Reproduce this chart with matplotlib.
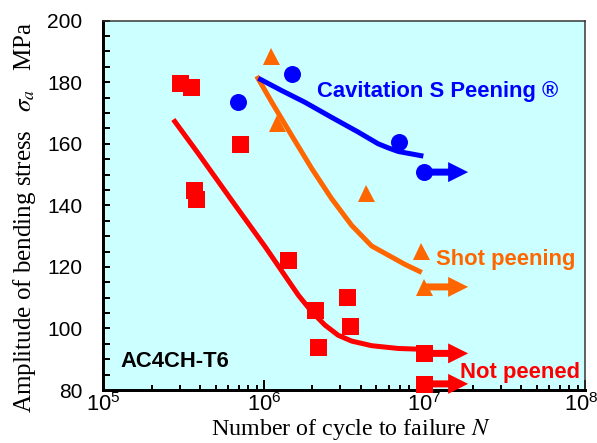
import numpy as np
import matplotlib
matplotlib.use('Agg')
import matplotlib.pyplot as plt
import matplotlib.transforms as mtransforms
from matplotlib.ticker import LogLocator, MultipleLocator, NullFormatter

# --- data (N in cycles, stress in MPa) ---
not_peened_N = [3.0e5, 3.5e5, 7.1e5, 3.65e5, 3.8e5, 1.42e6, 2.08e6, 3.3e6, 3.45e6, 2.18e6]
not_peened_S = [179.8, 178.4, 160.0, 145.1, 142.0, 122.4, 105.9, 110.1, 100.8, 94.0]
not_peened_runout_N = [1.0e7, 1.0e7]
not_peened_runout_S = [91.9, 82.0]

shot_N = [1.11e6, 1.21e6, 4.33e6, 9.45e6]
shot_S = [188.4, 166.8, 144.1, 125.1]
shot_runout_N = [1.0e7]
shot_runout_S = [113.5]

cav_N = [6.9e5, 1.49e6, 6.97e6]
cav_S = [173.5, 182.7, 160.5]
cav_runout_N = [1.0e7]
cav_runout_S = [150.8]

# fitted S-N curves (hand-drawn in the original)
red_fit_N = [2.73e5, 3.91e5, 6.31e5, 1.02e6, 1.64e6, 1.99e6, 2.40e6, 2.90e6, 3.52e6, 4.69e6, 6.87e6, 1.01e7]
red_fit_S = [167.9, 156.8, 141.6, 126.5, 110.8, 105.4, 101.1, 97.8, 95.9, 94.4, 93.5, 93.2]
shot_fit_N = [9.02e5, 1.12e6, 1.49e6, 1.99e6, 2.64e6, 3.52e6, 4.69e6, 6.25e6, 7.57e6, 9.62e6]
shot_fit_S = [182.0, 173.5, 162.7, 151.9, 142.2, 133.5, 126.8, 123.2, 120.8, 118.2]
cav_fit_N = [9.23e5, 1.29e6, 1.80e6, 2.64e6, 3.87e6, 5.15e6, 6.00e6, 6.87e6, 9.84e6]
cav_fit_S = [181.3, 177.3, 173.5, 168.6, 163.8, 160.0, 158.6, 157.5, 156.0]

arrow_factor = 1.87  # run-out arrows reach ~1.9x the run-out life

RED = '#ff0000'
BLUE = '#0000ff'
ORANGE = '#ff6600'
BG = '#ccffff'

plt.rcParams['font.family'] = 'Liberation Sans'
plt.rcParams['mathtext.fontset'] = 'custom'
plt.rcParams['mathtext.rm'] = 'Liberation Sans'
plt.rcParams['mathtext.it'] = 'Liberation Sans:italic'
plt.rcParams['mathtext.bf'] = 'Liberation Sans:bold'

fig = plt.figure(figsize=(597 / 72, 443 / 72), dpi=72)
ax = fig.add_axes([0.173, 0.1196, 0.807, 0.8337])
ax.set_facecolor(BG)
ax.set_xscale('log')
ax.set_xlim(1e5, 1e8)
ax.set_ylim(80, 200)

# fitted curves
for N, S, c in [(red_fit_N, red_fit_S, RED), (shot_fit_N, shot_fit_S, ORANGE), (cav_fit_N, cav_fit_S, BLUE)]:
    ax.plot(N, S, color=c, lw=5, solid_capstyle='butt', solid_joinstyle='round', zorder=2)


def runout(N_list, S_list, color):
    for N, S in zip(N_list, S_list):
        ax.annotate('', xy=(N * arrow_factor, S), xytext=(N, S), annotation_clip=False,
                    arrowprops=dict(arrowstyle='simple,head_length=1,head_width=1,tail_width=0.35',
                                    mutation_scale=20, color=color, lw=0, shrinkA=0, shrinkB=0),
                    zorder=3)


runout(not_peened_runout_N, not_peened_runout_S, RED)
runout(shot_runout_N, shot_runout_S, ORANGE)
runout(cav_runout_N, cav_runout_S, BLUE)

mk = dict(ms=17, mew=0, ls='none', clip_on=False, zorder=4)
ax.plot(not_peened_N + not_peened_runout_N, not_peened_S + not_peened_runout_S, 's', color=RED, **mk)
ax.plot(shot_N + shot_runout_N, shot_S + shot_runout_S, '^', color=ORANGE, **mk)
ax.plot(cav_N + cav_runout_N, cav_S + cav_runout_S, 'o', color=BLUE, **mk)

# annotations
ax.text(0.443, 0.794, 'Cavitation S Peening \u00ae', color=BLUE, fontsize=22, fontweight='bold',
        transform=ax.transAxes, va='baseline')
ax.text(0.691, 0.3385, 'Shot peening', color=ORANGE, fontsize=22, fontweight='bold',
        transform=ax.transAxes, va='baseline')
ax.text(0.7405, 0.0317, 'Not peened', color=RED, fontsize=22, fontweight='bold',
        transform=ax.transAxes, va='baseline', zorder=5)
ax.text(0.0347, 0.063, 'AC4CH-T6', color='black', fontsize=22, fontweight='bold',
        transform=ax.transAxes, va='baseline')

# axes styling
ax.set_xticks([1e5, 1e6, 1e7, 1e8])
ax.set_xticklabels([r'$10^{5}$', r'$10^{6}$', r'$10^{7}$', r'$10^{8}$'])
ax.xaxis.set_minor_locator(LogLocator(base=10, subs=np.arange(2, 10)))
ax.xaxis.set_minor_formatter(NullFormatter())
ax.yaxis.set_major_locator(MultipleLocator(20))
ax.yaxis.set_minor_locator(MultipleLocator(5))

ax.tick_params(which='both', direction='in', top=False, right=False, width=2, color='black')
ax.tick_params(axis='y', which='both', length=7, pad=21, labelsize=21)
ax.tick_params(axis='x', which='major', length=10, pad=3, labelsize=22)
ax.tick_params(axis='x', which='minor', length=5)

# keep the 10^8 label inside the canvas
last = ax.get_xticklabels()[-1]
last.set_transform(last.get_transform() + mtransforms.ScaledTranslation(-4 / 72, 0, fig.dpi_scale_trans))

for side in ['left', 'bottom']:
    ax.spines[side].set_linewidth(3)
for side in ['top', 'right']:
    ax.spines[side].set_linewidth(1.5)
    ax.spines[side].set_color('#333333')

ax.set_ylabel('Amplitude of bending stress   $\\sigma_a$   MPa', fontfamily='Liberation Serif',
              fontsize=25, math_fontfamily='stix')
ax.yaxis.set_label_coords(-0.135, 0.467)
ax.set_xlabel('Number of cycle to failure $N$', fontfamily='Liberation Serif',
              fontsize=24, math_fontfamily='stix')
ax.xaxis.set_label_coords(0.514, -0.072)

fig.savefig('out.png', dpi=72)
